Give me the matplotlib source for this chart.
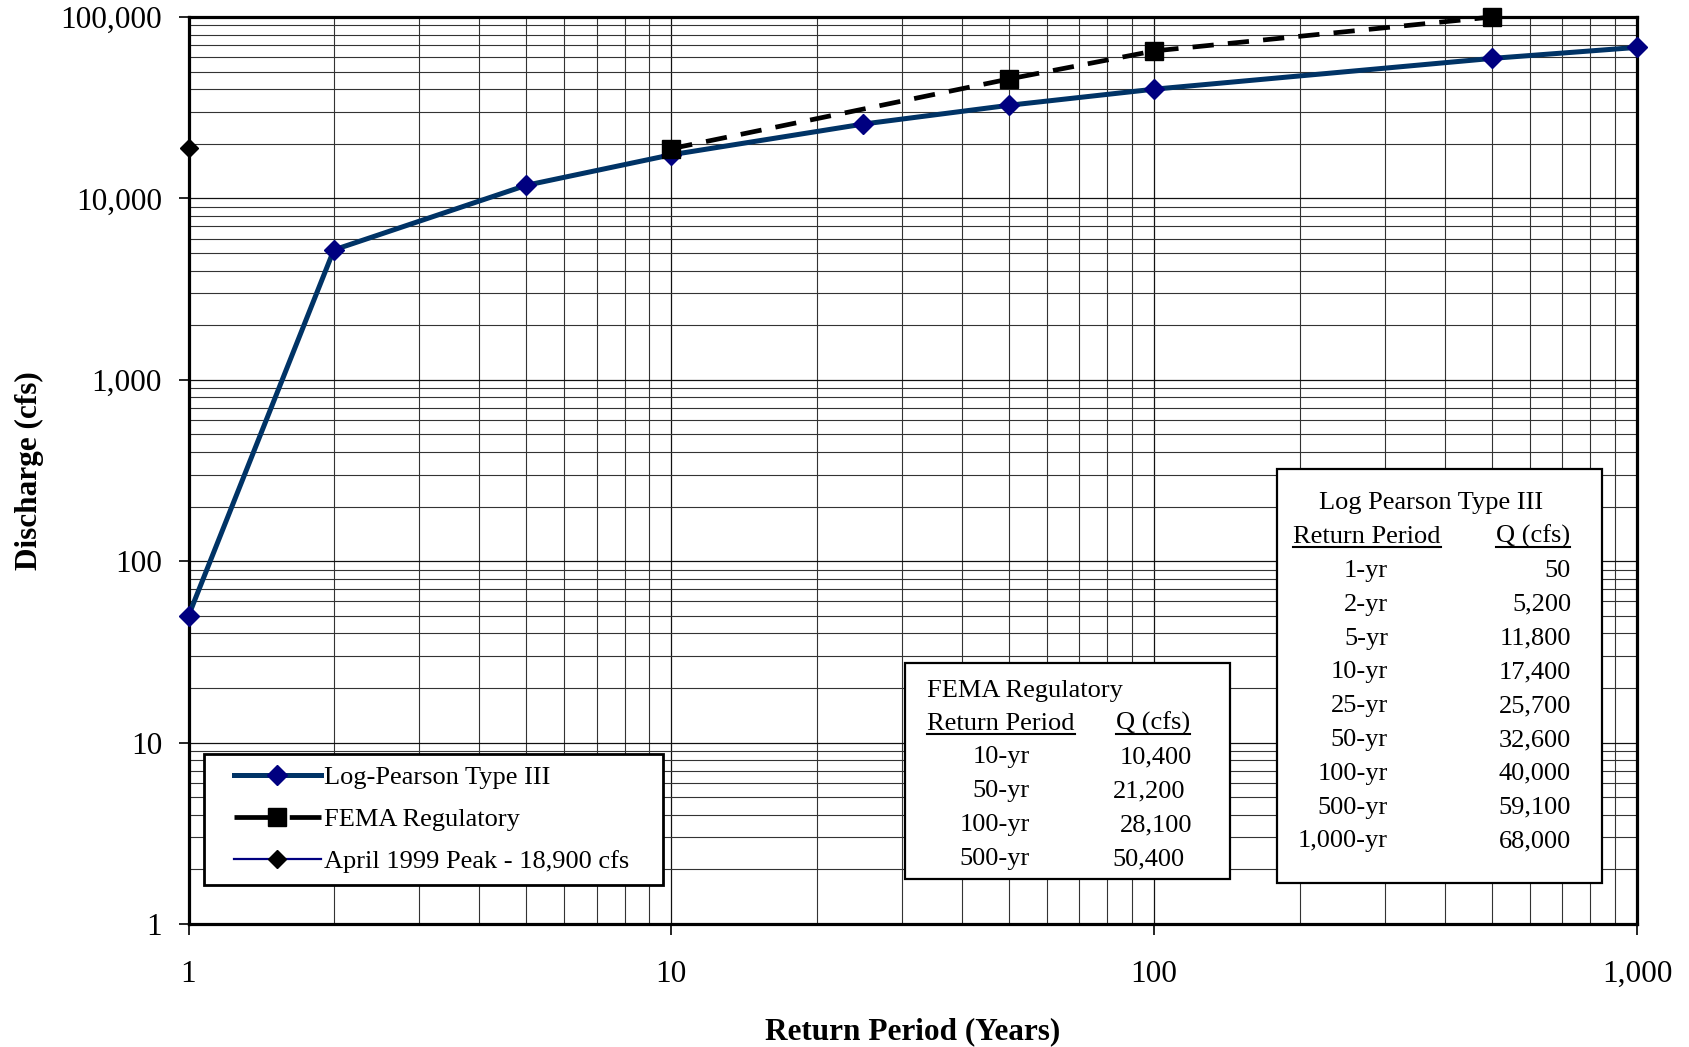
import matplotlib
matplotlib.use('Agg')
import matplotlib.pyplot as plt
from matplotlib.ticker import FixedLocator, FixedFormatter, LogLocator, NullFormatter
from matplotlib.patches import Rectangle
from matplotlib.lines import Line2D
from matplotlib.legend_handler import HandlerLine2D

plt.rcParams['font.family'] = ['Liberation Serif', 'DejaVu Serif']

# ---------------- data ----------------
lp3_years = [1, 2, 5, 10, 25, 50, 100, 500, 1000]
lp3_q = [50, 5200, 11800, 17400, 25700, 32600, 40000, 59100, 68000]

fema_years = [10, 50, 100, 500]
fema_q = [18800, 45500, 65000, 100000]

peak_years = [1]
peak_q = [18900]

x_ticks = [1, 10, 100, 1000]
x_ticklabels = ['1', '10', '100', '1,000']
y_ticks = [1, 10, 100, 1000, 10000, 100000]
y_ticklabels = ['1', '10', '100', '1,000', '10,000', '100,000']

lp3_table_periods = ['1-yr', '2-yr', '5-yr', '10-yr', '25-yr', '50-yr', '100-yr', '500-yr', '1,000-yr']
lp3_table_q = ['50', '5,200', '11,800', '17,400', '25,700', '32,600', '40,000', '59,100', '68,000']
fema_table_periods = ['10-yr', '50-yr', '100-yr', '500-yr']
fema_table_q = ['10,400', '21,200', '28,100', '50,400']

# ---------------- figure ----------------
W, H = 1689, 1047
fig = plt.figure(figsize=(W / 100, H / 100), dpi=100)
fig.patch.set_facecolor('white')


def fx(x):
    return x / W


def fy(y):
    return 1 - y / H


ax = fig.add_axes([fx(188.5), fy(924), (1637 - 188.5) / W, (924 - 17) / H])
ax.set_xscale('log')
ax.set_yscale('log')
ax.set_xlim(1, 1000)
ax.set_ylim(1, 100000)

ax.xaxis.set_major_locator(FixedLocator(x_ticks))
ax.xaxis.set_major_formatter(FixedFormatter(x_ticklabels))
ax.yaxis.set_major_locator(FixedLocator(y_ticks))
ax.yaxis.set_major_formatter(FixedFormatter(y_ticklabels))
ax.xaxis.set_minor_locator(LogLocator(base=10, subs=range(2, 10), numticks=100))
ax.yaxis.set_minor_locator(LogLocator(base=10, subs=range(2, 10), numticks=100))
ax.xaxis.set_minor_formatter(NullFormatter())
ax.yaxis.set_minor_formatter(NullFormatter())

ax.tick_params(which='major', axis='x', length=8, width=1.2, pad=18, labelsize=22.5, direction='out')
ax.tick_params(which='major', axis='y', length=7, width=1.2, pad=12, labelsize=22.5, direction='out')
ax.tick_params(which='minor', length=0)

ax.set_axisbelow(True)
ax.grid(True, which='major', color='#111111', lw=0.9)
ax.grid(True, which='minor', color='#333333', lw=0.8)

for s in ax.spines.values():
    s.set_linewidth(2.3)
    s.set_color('black')

# ---------------- series ----------------
lp3_line, = ax.plot(lp3_years, lp3_q, color='#003366', lw=3.6, marker='D', ms=10.5,
                    mfc='#000080', mec='#000080', clip_on=False, zorder=3,
                    label='Log-Pearson Type III')
fema_line, = ax.plot(fema_years, fema_q, color='black', lw=3.4, ls=(0, (4.5, 3)),
                     marker='s', ms=13, mfc='black', mec='black', clip_on=False, zorder=4,
                     label='FEMA Regulatory')
peak_line, = ax.plot(peak_years, peak_q, color='#000080', lw=1.6, marker='D', ms=9.5,
                     mfc='black', mec='black', clip_on=False, zorder=5,
                     label='April 1999 Peak - 18,900 cfs')

ax.set_xlabel('Return Period (Years)', fontsize=22.5, fontweight='bold', labelpad=20)
ax.set_ylabel('Discharge (cfs)', fontsize=22.5, fontweight='bold', labelpad=12)

# legend key for FEMA shows long dashes around the square
fema_key = Line2D([], [], color='black', lw=3.4, ls=(0, (10.5, 1.2)), marker='s', ms=13,
                  mfc='black', mec='black', label='FEMA Regulatory')

handles = [lp3_line, fema_key, peak_line]
hm = {l: HandlerLine2D(xpad=0.68, numpoints=1) for l in handles}
leg = ax.legend(handles=handles, handler_map=hm,
                loc='upper left', mode='expand',
                bbox_to_anchor=(fx(204), fy(883), 459 / W, 129 / H),
                bbox_transform=fig.transFigure, borderaxespad=0,
                fontsize=19, handlelength=3.98, handletextpad=0.12,
                labelspacing=0.7, borderpad=0.45, fancybox=False,
                framealpha=1, edgecolor='black', numpoints=1)
leg.get_frame().set_linewidth(2.0)
leg.set_zorder(10)

# ---------------- tables ----------------
FS = 19


def box(x0, y0, x1, y1):
    r = Rectangle((fx(x0), fy(y1)), (x1 - x0) / W, (y1 - y0) / H, transform=fig.transFigure,
                  facecolor='white', edgecolor='black', lw=1.6, zorder=20)
    fig.add_artist(r)


def txt(x, y, s, ha='left'):
    return fig.text(fx(x), fy(y), s, fontsize=FS, ha=ha, va='baseline', zorder=21)


underlined = []

# FEMA table
box(905, 663, 1230, 879)
txt(927, 697, 'FEMA Regulatory')
underlined.append(txt(927, 730, 'Return Period'))
underlined.append(txt(1116, 730, 'Q (cfs)'))
fema_offsets = [0, -7, 0, -7]
for i, (p, q) in enumerate(zip(fema_table_periods, fema_table_q)):
    yb = 763 + i * 34
    txt(1030, yb, p, ha='right')
    txt(1192 + fema_offsets[i], yb, q, ha='right')

# LP3 table
box(1277, 469, 1602, 883)
txt(1431, 509, 'Log Pearson Type III', ha='center')
underlined.append(txt(1293, 543, 'Return Period'))
underlined.append(txt(1496, 543, 'Q (cfs)'))
for i, (p, q) in enumerate(zip(lp3_table_periods, lp3_table_q)):
    yb = 577 + i * 33.8
    txt(1388, yb, p, ha='right')
    txt(1571, yb, q, ha='right')

fig.canvas.draw()
r = fig.canvas.get_renderer()
for t in underlined:
    bb = t.get_window_extent(renderer=r)
    xb, yb = t.get_position()
    ypix = yb * H - 4
    fig.add_artist(Line2D([bb.x0 / W, bb.x1 / W], [ypix / H, ypix / H], transform=fig.transFigure,
                          color='black', lw=1.5, zorder=22))

fig.savefig('out.png', dpi=100, facecolor='white')
